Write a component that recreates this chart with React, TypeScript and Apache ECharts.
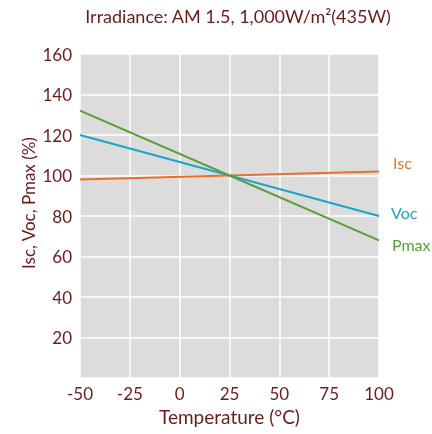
import React, { useEffect, useRef } from "react";
import * as echarts from "echarts";

const temperatures = [-50, 25, 100];
const iscValues = [98, 100, 102];
const vocValues = [120, 100, 80];
const pmaxValues = [132, 100, 68];
const xTicks = [-50, -25, 0, 25, 50, 75, 100];
const yTicks = [0, 20, 40, 60, 80, 100, 120, 140, 160];

const TEXT = "#6b1b1b";
const FONT = "Lato";

export default function App() {
  const ref = useRef<HTMLDivElement>(null);
  useEffect(() => {
    const chart = echarts.init(ref.current!, null, { renderer: "svg" });
    const mk = (name: string, vals: number[], color: string, offset: number[]) => ({
      type: "line",
      name,
      data: temperatures.map((t, i) => [t, vals[i]]),
      showSymbol: false,
      symbol: "none",
      lineStyle: { color, width: 2 },
      itemStyle: { color },
      endLabel: {
        show: true,
        formatter: name,
        color,
        fontFamily: FONT,
        fontSize: 16,
        offset,
      },
    });
    chart.setOption({
      animation: false,
      title: {
        text: "Irradiance: AM 1.5, 1,000W/m²(435W)",
        left: 233,
        textAlign: "center",
        top: 2,
        textStyle: { color: TEXT, fontFamily: FONT, fontSize: 18, fontWeight: "normal" },
      },
      graphic: [
        {
          type: "text",
          x: 28,
          y: 203,
          rotation: Math.PI / 2,
          style: {
            text: "Isc, Voc, Pmax (%)",
            fill: TEXT,
            fontFamily: FONT,
            fontSize: 17,
            align: "center",
            verticalAlign: "middle",
          },
        },
      ],
      grid: {
        left: 80,
        right: 53,
        top: 54,
        bottom: 56,
        show: true,
        backgroundColor: "#dcdcdc",
        borderWidth: 0,
      },
      xAxis: {
        type: "value",
        min: xTicks[0],
        max: xTicks[xTicks.length - 1],
        interval: 25,
        name: "Temperature (°C)",
        nameLocation: "middle",
        nameGap: 29,
        nameTextStyle: { color: TEXT, fontFamily: FONT, fontSize: 19 },
        axisLine: { show: false },
        axisTick: { show: false },
        axisLabel: { color: TEXT, fontFamily: FONT, fontSize: 17, margin: 7 },
        splitLine: { show: true, lineStyle: { color: "#ffffff", width: 1.5 } },
      },
      yAxis: {
        type: "value",
        min: yTicks[0],
        max: yTicks[yTicks.length - 1],
        interval: 20,
        axisLine: { show: false },
        axisTick: { show: false },
        axisLabel: {
          color: TEXT,
          fontFamily: FONT,
          fontSize: 17,
          margin: 8,
          formatter: (v: number) => (v === 0 ? "" : String(v)),
        },
        splitLine: { show: true, lineStyle: { color: "#ffffff", width: 1.5 } },
      },
      series: [
        mk("Isc", iscValues, "#e8702a", [6, -9]),
        mk("Voc", vocValues, "#1ba5c9", [4, -4]),
        mk("Pmax", pmaxValues, "#5d9e3c", [5, 4]),
      ],
    });
    return () => chart.dispose();
  }, []);
  return (
    <div
      ref={ref}
      style={{ position: "fixed", left: 0, top: 0, width: 432, height: 434 }}
    />
  );
}
